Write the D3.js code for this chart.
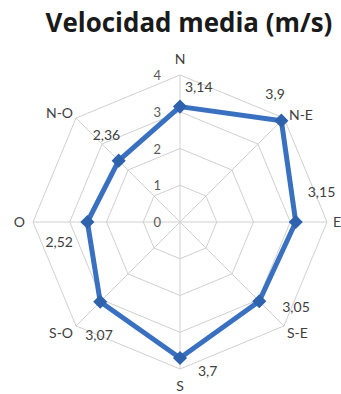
<!DOCTYPE html>
<html><head><meta charset="utf-8">
<script src="https://cdn.jsdelivr.net/npm/d3@7"></script>
<style>body{margin:0;background:#fff;}svg{display:block;}</style>
</head><body>
<svg id="c" width="341" height="394"></svg>
<script>
const categories = ["N","N-E","E","S-E","S","S-O","O","N-O"];
const values = [3.14, 3.9, 3.15, 3.05, 3.7, 3.07, 2.52, 2.36];
const valueLabels = ["3,14","3,9","3,15","3,05","3,7","3,07","2,52","2,36"];
const ticks = [0,1,2,3,4];
const title = "Velocidad media (m/s)";

const svg = d3.select("#c");
const cx = 180, cy = 222, R = 147;
const r = d3.scaleLinear().domain([0,4]).range([0,R]);
const ang = d3.scalePoint().domain(categories).range([0, 2*Math.PI*(categories.length-1)/categories.length]);
const pt = (c,v)=>{const a=ang(c); return [cx + r(v)*Math.sin(a), cy - r(v)*Math.cos(a)];};

const tt = svg.append("text").attr("x",189).attr("y",32).attr("text-anchor","middle")
  .attr("font-family","'Open Sans', sans-serif").attr("font-weight","bold").attr("font-size",22)
  .attr("fill","#1a1a1a").text(title);
const len = tt.node().getComputedTextLength();
tt.attr("font-size", 22*287/len);

const g = svg.append("g");
ticks.filter(t=>t>0).forEach(t=>{
  g.append("path").attr("d", d3.line()(categories.map(c=>pt(c,t))) + "Z")
   .attr("fill","none").attr("stroke","#d0d0d0").attr("stroke-width",1);
});
categories.forEach(c=>{
  const [x,y]=pt(c,4);
  g.append("line").attr("x1",cx).attr("y1",cy).attr("x2",x).attr("y2",y)
   .attr("stroke","#d0d0d0").attr("stroke-width",1);
});
ticks.forEach(t=>{
  g.append("text").attr("x",cx-19).attr("y",cy - r(t)+5).attr("text-anchor","end")
   .attr("font-family","Lato, sans-serif").attr("font-size",13).attr("fill","#595959").text(t);
});
const catOff = {"N":[0,-15],"N-E":[5,-2],"E":[6,1],"S-E":[3,8],"S":[0,18],"S-O":[-3,8],"O":[-8,1],"N-O":[-3,-4]};
const catAnchor = {"N":"middle","N-E":"start","E":"start","S-E":"start","S":"middle","S-O":"end","O":"end","N-O":"end"};
categories.forEach(c=>{
  const [x,y]=pt(c,4);
  g.append("text").attr("x",x+catOff[c][0]).attr("y",y+catOff[c][1]+4)
   .attr("text-anchor",catAnchor[c]).attr("font-family","Lato, sans-serif")
   .attr("font-size",14).attr("fill","#404040").text(c);
});
const pts = categories.map((c,i)=>pt(c,values[i]));
g.append("path").attr("d", d3.line()(pts)+"Z").attr("fill","none")
  .attr("stroke","#3a70c0").attr("stroke-width",5).attr("stroke-linejoin","round");
pts.forEach(([x,y])=>{
  g.append("rect").attr("x",x-5).attr("y",y-5).attr("width",10).attr("height",10)
   .attr("transform",`rotate(45,${x},${y})`).attr("fill","#2f62ad");
});
const valOff = [[5,-19],[-16,-26],[12,-29],[23,7],[18,14],[-15,34],[-42,21],[-26,-25]];
categories.forEach((c,i)=>{
  const [x,y]=pts[i];
  g.append("text").attr("x",x+valOff[i][0]).attr("y",y+valOff[i][1]+4)
   .attr("font-family","Lato, sans-serif").attr("font-size",14).attr("fill","#404040").text(valueLabels[i]);
});
</script>
</body></html>
